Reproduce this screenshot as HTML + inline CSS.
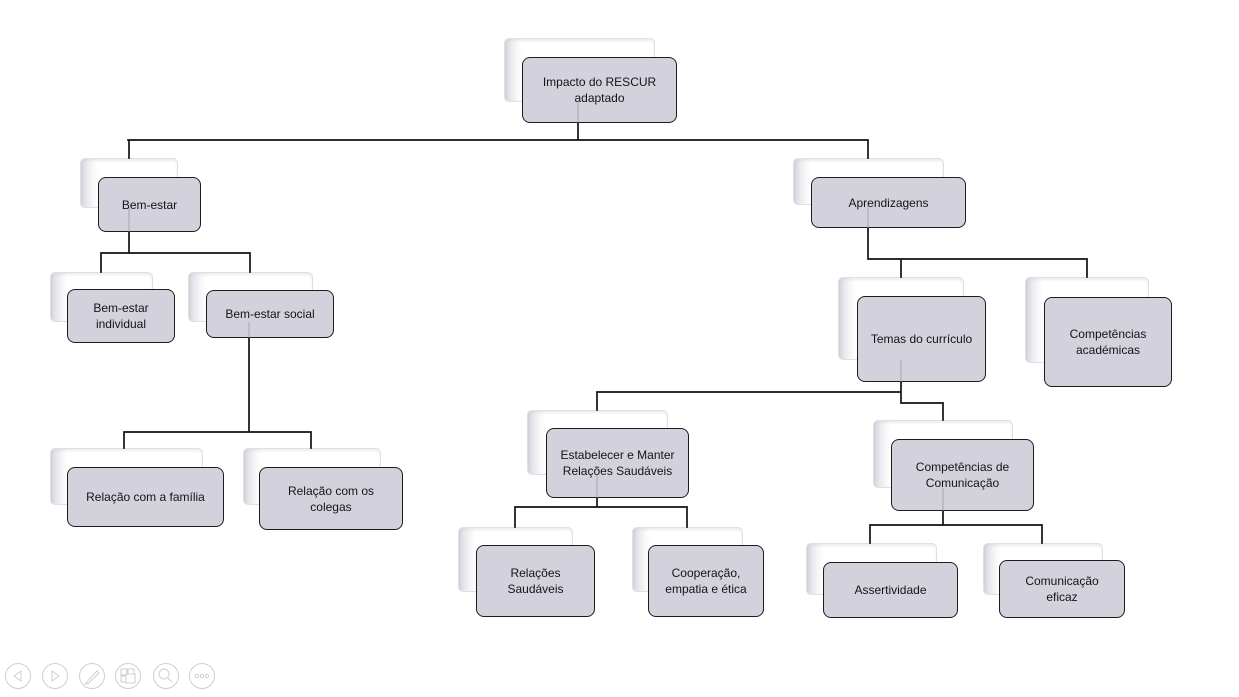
<!DOCTYPE html>
<html>
<head>
<meta charset="utf-8">
<style>
  html,body{margin:0;padding:0;background:#fff;}
  body{width:1239px;height:697px;position:relative;overflow:hidden;font-family:"Liberation Sans",Arial,sans-serif;}
  .b{position:absolute;box-sizing:border-box;border:1px solid #e0e0e4;border-radius:5px;
     background:linear-gradient(to right,#d2d2da 0px,#e6e6ec 5px,#f6f6f8 11px,#ffffff 17px);
     box-shadow:inset 0 2px 2px rgba(200,200,210,0.35);}
  .f{position:absolute;box-sizing:border-box;border:1.8px solid #1c1c1c;border-radius:8px;background:#d3d1dc;
     display:flex;align-items:center;justify-content:center;text-align:center;font-size:12px;line-height:16px;color:#141414;}
  svg{position:absolute;left:0;top:0;}
</style>
</head>
<body>
<!-- back cards -->
<div class="b" style="left:504px;top:38px;width:151px;height:64px"></div>
<div class="b" style="left:80px;top:158px;width:98px;height:50px"></div>
<div class="b" style="left:793px;top:158px;width:151px;height:47px"></div>
<div class="b" style="left:50px;top:272px;width:103px;height:50px"></div>
<div class="b" style="left:188px;top:272px;width:125px;height:50px"></div>
<div class="b" style="left:838px;top:277px;width:126px;height:83px"></div>
<div class="b" style="left:1025px;top:277px;width:124px;height:86px"></div>
<div class="b" style="left:50px;top:448px;width:153px;height:57px"></div>
<div class="b" style="left:243px;top:448px;width:138px;height:57px"></div>
<div class="b" style="left:527px;top:410px;width:141px;height:65px"></div>
<div class="b" style="left:873px;top:420px;width:140px;height:68px"></div>
<div class="b" style="left:458px;top:527px;width:115px;height:65px"></div>
<div class="b" style="left:632px;top:527px;width:111px;height:65px"></div>
<div class="b" style="left:806px;top:543px;width:131px;height:52px"></div>
<div class="b" style="left:983px;top:543px;width:120px;height:52px"></div>

<!-- connectors -->
<svg width="1239" height="697" viewBox="0 0 1239 697">
  <g stroke="#111" stroke-width="1.7" fill="none" stroke-linecap="square">
    <path d="M578 123V140M128 140H868M129 140V158M868 140V158"/>
    <path d="M129 232V253M101 253H250M101 253V272M250 253V272"/>
    <path d="M249 338V432M124 432H311M124 432V448M311 432V448"/>
    <path d="M868 228V259H1087M901 259V277M1087 259V277"/>
    <path d="M901 382V403H943V420M597 392H901M597 392V410"/>
    <path d="M597 498V507M515 507H687M515 507V527M687 507V527"/>
    <path d="M943 511V525M870 525H1042M870 525V543M1042 525V543"/>
  </g>
</svg>

<!-- front cards -->
<div class="f" style="left:522px;top:57px;width:155px;height:66px">Impacto do RESCUR<br>adaptado</div>
<div class="f" style="left:98px;top:177px;width:103px;height:55px">Bem-estar</div>
<div class="f" style="left:811px;top:177px;width:155px;height:51px">Aprendizagens</div>
<div class="f" style="left:67px;top:289px;width:108px;height:54px">Bem-estar<br>individual</div>
<div class="f" style="left:206px;top:290px;width:128px;height:48px">Bem-estar social</div>
<div class="f" style="left:857px;top:296px;width:129px;height:86px">Temas do currículo</div>
<div class="f" style="left:1044px;top:297px;width:128px;height:90px">Competências<br>académicas</div>
<div class="f" style="left:67px;top:467px;width:157px;height:60px">Relação com a família</div>
<div class="f" style="left:259px;top:467px;width:144px;height:63px">Relação com os<br>colegas</div>
<div class="f" style="left:546px;top:428px;width:143px;height:70px">Estabelecer e Manter<br>Relações Saudáveis</div>
<div class="f" style="left:891px;top:439px;width:143px;height:72px">Competências de<br>Comunicação</div>
<div class="f" style="left:476px;top:545px;width:119px;height:72px">Relações<br>Saudáveis</div>
<div class="f" style="left:648px;top:545px;width:116px;height:72px">Cooperação,<br>empatia e ética</div>
<div class="f" style="left:823px;top:562px;width:135px;height:56px">Assertividade</div>
<div class="f" style="left:999px;top:560px;width:126px;height:58px">Comunicação<br>eficaz</div>

<!-- faint see-through connector segments -->
<svg width="1239" height="697" viewBox="0 0 1239 697">
  <g stroke="#8a8a92" stroke-width="1" fill="none" opacity="0.6">
    <path d="M578 102V123M129 208V232M868 205V228M249 322V338M901 360V382M597 475V498M943 488V511"/>
  </g>
  <!-- toolbar icons -->
  <g stroke="#cfcfcf" stroke-width="1" fill="none">
    <circle cx="18" cy="676" r="12.5"/>
    <circle cx="55" cy="676" r="12.5"/>
    <circle cx="92" cy="676" r="12.5"/>
    <circle cx="128" cy="676" r="12.5"/>
    <circle cx="166" cy="676" r="12.5"/>
    <circle cx="202" cy="676" r="12.5"/>
    <path d="M21 671L14 676L21 681Z"/>
    <path d="M52 671L59 676L52 681Z"/>
    <path d="M86 683L97 671L99 673L88 684Z M86 683L85 685"/>
    <rect x="121" y="669" width="6" height="6"/>
    <rect x="128" y="669" width="6" height="6"/>
    <rect x="121" y="676" width="6" height="6"/>
    <rect x="126" y="674" width="9" height="9" fill="#fff"/>
    <circle cx="164" cy="674" r="5"/>
    <path d="M168 678L172 682"/>
    <circle cx="197" cy="676" r="1.6"/>
    <circle cx="202" cy="676" r="1.6"/>
    <circle cx="207" cy="676" r="1.6"/>
  </g>
</svg>
</body>
</html>
